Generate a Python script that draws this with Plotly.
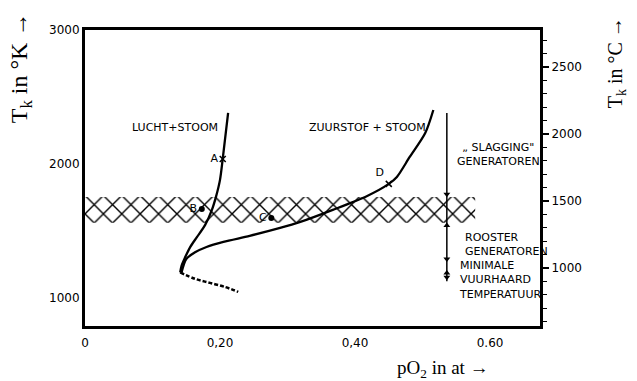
import plotly.graph_objects as go

# ---- data ----
lucht_x = [0.212, 0.204, 0.200, 0.194, 0.188, 0.178, 0.166, 0.156, 0.148, 0.143, 0.141]
lucht_T = [2381, 2037, 1881, 1754, 1657, 1545, 1455, 1381, 1299, 1239, 1190]

zuur_x = [0.516, 0.504, 0.481, 0.462, 0.450, 0.418, 0.367, 0.319, 0.289, 0.244, 0.205, 0.180, 0.163, 0.150, 0.143]
zuur_T = [2403, 2231, 2052, 1903, 1851, 1761, 1657, 1567, 1522, 1463, 1418, 1380, 1340, 1290, 1190]

tail_x = [0.141, 0.163, 0.185, 0.207, 0.227]
tail_T = [1190, 1142, 1112, 1082, 1045]

band_x = [0.0, 0.578]
band_T = [1560, 1754]

cross_labels = ["A", "D"]
cross_x = [0.204, 0.450]
cross_T = [2037, 1851]

dot_labels = ["B", "C"]
dot_x = [0.173, 0.276]
dot_T = [1664, 1597]

arrow_x = 0.536
arrow_line_T = [2381, 1125]
arrow_tip_T = [1754, 1560, 1270, 1205, 1134]
arrow_dir = ["down", "up", "down", "up", "down"]

x_ticks = [0, 0.2, 0.4, 0.6]
x_ticklabels = ["0", "0,20", "0,40", "0.60"]
yK_ticks = [1000, 2000, 3000]
yC_ticks = [1000, 1500, 2000, 2500]

FONT = "DejaVu Sans"
SERIF = "Liberation Serif"

fig = go.Figure()

# hatched band
fig.add_trace(go.Scatter(
    x=[band_x[0], band_x[1], band_x[1], band_x[0], band_x[0]],
    y=[band_T[0], band_T[0], band_T[1], band_T[1], band_T[0]],
    mode="lines", line=dict(width=0), fill="toself", fillcolor="white",
    fillpattern=dict(shape="x", size=13, solidity=0.2, fgcolor="black", fgopacity=1, bgcolor="white"),
    hoverinfo="skip", showlegend=False))

# curves
fig.add_trace(go.Scatter(x=lucht_x, y=lucht_T, mode="lines", line=dict(color="black", width=2.3, shape="spline", smoothing=0.8), showlegend=False))
fig.add_trace(go.Scatter(x=zuur_x, y=zuur_T, mode="lines", line=dict(color="black", width=2.3, shape="spline", smoothing=0.8), showlegend=False))
fig.add_trace(go.Scatter(x=tail_x, y=tail_T, mode="lines", line=dict(color="black", width=2.5, dash="4px,2px", shape="spline"), showlegend=False))

# points
fig.add_trace(go.Scatter(x=cross_x, y=cross_T, mode="markers+text", text=cross_labels,
                         textposition=["middle left", "top left"],
                         textfont=dict(family=FONT, size=11, color="black"),
                         marker=dict(symbol="x-thin", size=6, line=dict(width=1.5, color="black")), showlegend=False))
fig.add_trace(go.Scatter(x=dot_x, y=dot_T, mode="markers+text", text=dot_labels,
                         textposition="middle left",
                         textfont=dict(family=FONT, size=11, color="black"),
                         marker=dict(symbol="circle", size=6, color="black"), showlegend=False))

# secondary axis carrier (°C)
fig.add_trace(go.Scatter(x=[None], y=[None], yaxis="y2", showlegend=False))

# vertical line with arrow heads
fig.add_trace(go.Scatter(x=[arrow_x, arrow_x], y=arrow_line_T, mode="lines",
                         line=dict(color="black", width=1.5), showlegend=False))
head_off = 20  # marker centre offset from the tip, in K
fig.add_trace(go.Scatter(
    x=[arrow_x] * len(arrow_tip_T),
    y=[t + head_off if d == "down" else t - head_off for t, d in zip(arrow_tip_T, arrow_dir)],
    mode="markers",
    marker=dict(symbol=["triangle-down" if d == "down" else "triangle-up" for d in arrow_dir],
                size=6, color="black"),
    showlegend=False))

annots = []
def txt(x, y, s, size=11, align="center", xanchor="center"):
    annots.append(dict(x=x, y=y, xref="x", yref="y", text=s, showarrow=False, align=align, xanchor=xanchor,
                       yanchor="middle", font=dict(family=FONT, size=size, color="black")))

txt(0.134, 2271, "LUCHT+STOOM")
txt(0.418, 2271, "ZUURSTOF + STOOM")
txt(0.612, 2068, "\u201e SLAGGING\"<br>GENERATOREN")
txt(0.560, 1395, "ROOSTER<br>GENERATOREN", align="left", xanchor="left")
txt(0.551, 1135, "MINIMALE<br>VUURHAARD<br>TEMPERATUUR", align="left", xanchor="left")

# axis titles
annots.append(dict(x=-0.142, y=0.872, xref="paper", yref="paper", text="T<sub>k</sub> in °K →", textangle=-90,
                   xanchor="center", yanchor="middle",
                   showarrow=False, font=dict(family=SERIF, size=24, color="black")))
annots.append(dict(x=1.168, y=0.889, xref="paper", yref="paper", text="T<sub>k</sub> in °C →", textangle=-90,
                   xanchor="center", yanchor="middle",
                   showarrow=False, font=dict(family=SERIF, size=20, color="black")))
annots.append(dict(x=0.786, y=-0.145, xref="paper", yref="paper", text="pO<sub>2</sub> in at →",
                   xanchor="center", yanchor="middle",
                   showarrow=False, font=dict(family=SERIF, size=19, color="black")))

fig.update_layout(
    width=637, height=381,
    margin=dict(l=85, r=97, t=30, b=55),
    paper_bgcolor="white", plot_bgcolor="white",
    showlegend=False,
    annotations=annots,
    xaxis=dict(range=[0, 0.674], tickvals=x_ticks, ticktext=x_ticklabels, showgrid=False, zeroline=False,
               showline=True, linecolor="black", linewidth=3, mirror=True, ticks="",
               tickfont=dict(family=FONT, size=12, color="black"), ticklabelstandoff=4),
    yaxis=dict(range=[790, 3000], tickvals=yK_ticks, showgrid=False, zeroline=False,
               showline=True, linecolor="black", linewidth=3, mirror=True, ticks="",
               tickfont=dict(family=FONT, size=12, color="black")),
    yaxis2=dict(range=[567, 2776], overlaying="y", side="right", tickvals=yC_ticks, showgrid=False, zeroline=False,
                showline=True, linecolor="black", linewidth=3, ticks="outside", ticklen=6, tickwidth=1.5, tickcolor="black",
                minor=dict(dtick=100, ticks="outside", ticklen=4, tickwidth=1, tickcolor="black"),
                tickfont=dict(family=FONT, size=12, color="black")),
)

fig.write_html("out.html")
